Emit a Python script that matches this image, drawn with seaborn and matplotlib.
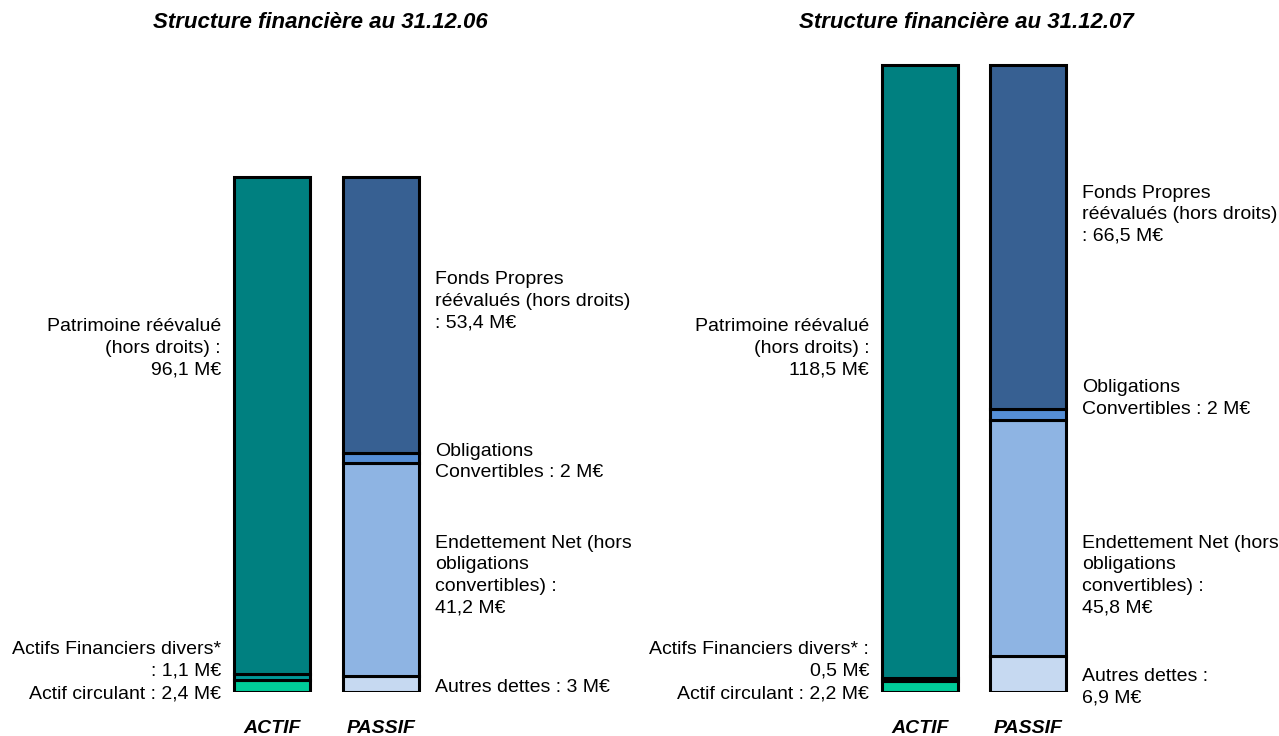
import matplotlib
matplotlib.use("Agg")
import matplotlib.pyplot as plt
import seaborn as sns
import pandas as pd

# ---- data ----
sides = ["ACTIF", "PASSIF"]
titles = ["Structure financière au 31.12.06", "Structure financière au 31.12.07"]

actif_segments = ["Actif circulant", "Actifs Financiers divers", "Patrimoine réévalué"]
actif_2006 = [2.4, 1.1, 96.1]
actif_2007 = [2.2, 0.5, 118.5]

passif_segments = ["Autres dettes", "Endettement Net", "Obligations Convertibles", "Fonds Propres"]
passif_2006 = [3.0, 41.2, 2.0, 53.4]
passif_2007 = [6.9, 45.8, 2.0, 66.5]

actif_colors = ["#00cc99", "#009999", "#008080"]
passif_colors = ["#c6d9f1", "#8eb4e3", "#558ed5", "#376092"]

actif_labels_2006 = ["Actif circulant : 2,4 M€", "Actifs Financiers divers*\n: 1,1 M€",
                     "Patrimoine réévalué\n(hors droits) :\n96,1 M€"]
actif_labels_2007 = ["Actif circulant : 2,2 M€", "Actifs Financiers divers* :\n0,5 M€",
                     "Patrimoine réévalué\n(hors droits) :\n118,5 M€"]
passif_labels_2006 = ["Autres dettes : 3 M€",
                      "Endettement Net (hors\nobligations\nconvertibles) :\n41,2 M€",
                      "Obligations\nConvertibles : 2 M€",
                      "Fonds Propres\nréévalués (hors droits)\n: 53,4 M€"]
passif_labels_2007 = ["Autres dettes :\n6,9 M€",
                      "Endettement Net (hors\nobligations\nconvertibles) :\n45,8 M€",
                      "Obligations\nConvertibles : 2 M€",
                      "Fonds Propres\nréévalués (hors droits)\n: 66,5 M€"]

# label vertical positions (layout, data units)
actif_label_y_2006 = [-0.4, 6.2, 66.5]
actif_label_y_2007 = [-0.4, 6.2, 66.5]
passif_label_y_2006 = [0.8, 22.5, 44.5, 75.6]
passif_label_y_2007 = [0.9, 22.5, 56.8, 92.3]

sns.set_theme(style="white")
plt.rcParams["font.family"] = ["Liberation Sans", "DejaVu Sans"]

W, H = 1279, 736
fig = plt.figure(figsize=(W / 100, H / 100), dpi=100)

px_per_unit = 5.17
base_px = 692
top_px = 40
ax_bottom = (H - base_px) / H
ax_height = (base_px - top_px) / H
ymax = (base_px - top_px) / px_per_unit

panels = [
    dict(actif=actif_2006, passif=passif_2006, al=actif_labels_2006, pl=passif_labels_2006,
         ay=actif_label_y_2006, py=passif_label_y_2006, x0=272, unit=109, left=0.0, title_x=320),
    dict(actif=actif_2007, passif=passif_2007, al=actif_labels_2007, pl=passif_labels_2007,
         ay=actif_label_y_2007, py=passif_label_y_2007, x0=920, unit=108, left=0.5, title_x=966),
]

bar_w = 0.70
lw = 2.2
fs = 14

for i, p in enumerate(panels):
    ax = fig.add_axes([p["left"], ax_bottom, 0.5, ax_height])
    ax_left_px = p["left"] * W
    ax_right_px = ax_left_px + 0.5 * W
    for side, vals, cols in [("ACTIF", p["actif"], actif_colors), ("PASSIF", p["passif"], passif_colors)]:
        bottom = 0.0
        for v, c in zip(vals, cols):
            df = pd.DataFrame({"side": [side], "value": [v]})
            sns.barplot(data=df, x="side", y="value", order=sides, bottom=bottom, color=c,
                        saturation=1, width=bar_w, edgecolor="black", linewidth=lw,
                        errorbar=None, ax=ax, zorder=3)
            bottom += v
    ax.set_xlim(-(p["x0"] - ax_left_px) / p["unit"], (ax_right_px - p["x0"]) / p["unit"])
    ax.set_ylim(0, ymax)
    ax.set_xlabel("")
    ax.set_ylabel("")
    ax.set_yticks([])
    ax.tick_params(axis="x", length=0, pad=20)
    for t in ax.get_xticklabels():
        t.set_fontweight("bold")
        t.set_fontstyle("italic")
        t.set_fontsize(14)
        t.set_color("black")
    for s in ax.spines.values():
        s.set_visible(False)
    ax.patch.set_alpha(0)

    gap = 13 / p["unit"]
    for lab, y in zip(p["al"], p["ay"]):
        ax.text(-bar_w / 2 - gap, y, lab, ha="right", va="center", multialignment="right",
                fontsize=fs, linespacing=1.35, color="black", clip_on=False)
    gap2 = 16 / p["unit"]
    for lab, y in zip(p["pl"], p["py"]):
        ax.text(1 + bar_w / 2 + gap2, y, lab, ha="left", va="center", multialignment="left",
                fontsize=fs, linespacing=1.35, color="black", clip_on=False)

    fig.text(p["title_x"] / W, 1 - 22 / H, titles[i], ha="center", va="center",
             fontsize=16, fontweight="bold", fontstyle="italic", color="black")

fig.savefig("out.png", dpi=100)
